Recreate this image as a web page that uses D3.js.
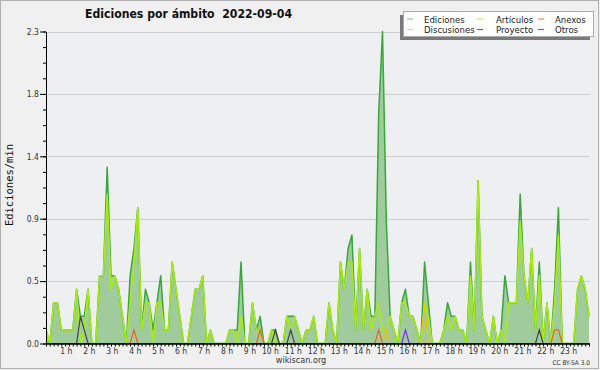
<!DOCTYPE html>
<html><head><meta charset="utf-8">
<script src="https://cdn.jsdelivr.net/npm/d3@7"></script>
<style>body{margin:0;background:#fff}svg{display:block}</style>
</head><body><svg id="c" width="600" height="370"></svg>
<script>
// 10-minute slots, edits per minute
const ediciones = [0.1,0,0.3,0.3,0.1,0.1,0.1,0.1,0.4,0.2,0.2,0.4,0,0,0.5,0.5,1.3,0.5,0.5,0.4,0.2,0,0.5,0.7,1.0,0.1,0.4,0.3,0.1,0.3,0.5,0.1,0.1,0.6,0.4,0.2,0,0,0.2,0.4,0.4,0.5,0,0.1,0,0,0,0,0.1,0.1,0.1,0.6,0,0,0.3,0.1,0.2,0,0,0.1,0.1,0,0,0.2,0.2,0.2,0.1,0,0.1,0.1,0.2,0,0,0,0.3,0.1,0,0.6,0.4,0.7,0.8,0.1,0.7,0.1,0.4,0.2,0.2,1.7,2.3,0.9,0.2,0.1,0,0.3,0.4,0.2,0.2,0.1,0,0.6,0.3,0,0,0,0.1,0.3,0.2,0.2,0.1,0.1,0,0.6,0.1,1.2,0.2,0.1,0,0.2,0,0.1,0.5,0.3,0.3,0.3,1.1,0.5,0.3,0.7,0.1,0.6,0,0.3,0,0.4,1.0,0,0,0,0,0.4,0.5,0.4,0.2];
const articulos = [0.1,0,0.3,0.3,0.1,0.1,0.1,0.1,0.4,0,0.1,0.4,0,0,0.5,0.5,1.1,0.4,0.5,0.4,0.2,0,0.3,0.6,1.0,0.1,0.3,0.3,0,0.3,0.3,0.1,0.1,0.6,0.4,0.2,0,0,0.2,0.4,0.4,0.5,0,0.1,0,0,0,0,0.1,0.1,0,0.2,0,0,0.3,0.1,0.1,0,0,0.1,0,0,0,0.2,0.1,0.2,0.1,0,0.1,0.1,0.2,0,0,0,0.3,0.1,0,0.6,0.4,0.6,0.6,0.1,0.7,0.1,0.4,0.1,0.2,0.3,0.1,0.1,0.2,0.1,0,0.3,0.3,0.2,0.2,0.1,0,0.3,0.2,0,0,0,0.1,0.2,0.1,0.2,0.1,0.1,0,0.5,0.1,1.2,0.2,0.1,0,0.2,0,0.1,0,0.3,0.3,0.3,0.9,0.5,0.3,0.7,0.1,0.5,0,0.3,0,0.3,0.8,0,0,0,0,0.4,0.5,0.4,0.2];
// sparse series: [slot, value]
const discusiones = [[89,0.1],[99,0.3]];
const proyecto = [[9,0.2],[10,0.1],[60,0.1],[64,0.1],[129,0.1]];
const anexos = [[23,0.1],[56,0.1],[87,0.1],[133,0.1],[134,0.1]];
const otros = [[94,0.1]];
const yTicks = [0, 0.46, 0.92, 1.38, 1.84, 2.3];
const hourLabels = ["1 h","2 h","3 h","4 h","5 h","6 h","7 h","8 h","9 h","10 h","11 h","12 h","13 h","14 h","15 h","16 h","17 h","18 h","19 h","20 h","21 h","22 h","23 h"];
const legendItems = [
  {name:"Ediciones", color:"#7fcf7f"},
  {name:"Artículos", color:"#c8ee55"},
  {name:"Anexos", color:"#f08a5a"},
  {name:"Discusiones", color:"#f5d44a"},
  {name:"Proyecto", color:"#666666"},
  {name:"Otros", color:"#9a4cf0"}
];

const N = ediciones.length;
function dense(sp){ const a = new Array(N).fill(0); sp.forEach(([i,v])=>a[i]=v); return a; }

const svg = d3.select("#c");
svg.append("rect").attr("x",0).attr("y",0).attr("width",600).attr("height",370).attr("fill","#f0f0f0");
svg.append("rect").attr("x",0.5).attr("y",0.5).attr("width",598).attr("height",368).attr("fill","none").attr("stroke","#b0b0b0");

const x = d3.scaleLinear().domain([0, 142]).range([46, 46 + 142*3.824]);
const y = d3.scaleLinear().domain([0, 2.3]).range([343.5, 31.5]);
const L = 46, R = 590;

// plot background
svg.append("rect").attr("x",L).attr("y",y(2.3)).attr("width",R-L).attr("height",y(0)-y(2.3)).attr("fill","#eeeff1");
// gridlines
svg.append("g").selectAll("line").data(yTicks.slice(1)).join("line")
  .attr("x1",L).attr("x2",R).attr("y1",d=>Math.round(y(d))+0.5).attr("y2",d=>Math.round(y(d))+0.5)
  .attr("stroke","#cccccc").attr("stroke-width",1);

svg.append("clipPath").attr("id","pc").append("rect").attr("x",L).attr("y",0).attr("width",R-L).attr("height",344);
const g = svg.append("g").attr("clip-path","url(#pc)");

const area = d3.area().x((d,i)=>x(i)).y0(y(0)).y1(d=>y(d));
const line = d3.line().x((d,i)=>x(i)).y(d=>y(d));

g.append("path").datum(ediciones).attr("d",area).attr("fill","#9fcb9d");
g.append("path").datum(ediciones).attr("d",line).attr("fill","none").attr("stroke","#38a83a").attr("stroke-width",1.5).attr("stroke-linejoin","round");
g.append("path").datum(articulos).attr("d",line).attr("fill","none").attr("stroke","#a8ec10").attr("stroke-width",1.5).attr("stroke-linejoin","round");
[[discusiones,"#f2c200"],[proyecto,"#444444"],[anexos,"#f06020"],[otros,"#7a2cf0"]].forEach(([s,c])=>{
  g.append("path").datum(dense(s)).attr("d",line).attr("fill","none").attr("stroke",c).attr("stroke-width",1.2);
});

// axes
const tickFont = "DejaVu Sans Condensed, DejaVu Sans, sans-serif";
const minorY = d3.range(0, 21).map(k=>k*2.3/20);
const ay = svg.append("g").attr("transform",`translate(${L},0)`);
ay.call(d3.axisLeft(y).tickValues(minorY).tickSize(3).tickFormat("").tickSizeOuter(0));
ay.selectAll(".tick line").attr("stroke","#000");
const ay2 = svg.append("g").attr("transform",`translate(${L},0)`);
ay2.call(d3.axisLeft(y).tickValues(yTicks).tickSize(6).tickPadding(1).tickFormat(d3.format(".1f")).tickSizeOuter(0));
ay2.selectAll("text").attr("font-family",tickFont).attr("font-size",8.5).attr("fill","#333");
ay2.select(".domain").attr("stroke","#000");

const ax = svg.append("g").attr("transform",`translate(0,${y(0)})`);
ax.call(d3.axisBottom(x).tickValues(d3.range(0, 143)).tickSize(3).tickFormat("").tickSizeOuter(0));
ax.select(".domain").attr("d",`M${L},0.5H${R}`).attr("stroke","#000").attr("stroke-width",1.5);
ax.selectAll(".tick line").attr("stroke","#000");
svg.append("g").selectAll("text").data(hourLabels).join("text")
  .attr("x",(d,i)=>x((i+1)*6)+3.5).attr("y",354).attr("text-anchor","end")
  .attr("font-family",tickFont).attr("font-size",8.5).attr("fill","#333").text(d=>d);

// y title
svg.append("text").attr("transform","translate(13,185) rotate(-90)").attr("text-anchor","middle")
  .attr("font-family","DejaVu Sans Mono, monospace").attr("font-size",10.5).attr("fill","#111").text("Ediciones/min");

// title
svg.append("text").attr("x",85).attr("y",17.5).attr("font-family","DejaVu Sans Condensed, DejaVu Sans, sans-serif")
  .attr("font-weight","bold").attr("font-size",12).attr("fill","#111")
  .attr("textLength",207).attr("lengthAdjust","spacingAndGlyphs")
  .style("white-space","pre").text("Ediciones por ámbito  2022-09-04");

// footer
svg.append("text").attr("x",301).attr("y",363).attr("text-anchor","middle").attr("font-family",tickFont)
  .attr("font-size",9).attr("fill","#333").text("wikiscan.org");
svg.append("text").attr("x",590).attr("y",364.5).attr("text-anchor","end").attr("font-family",tickFont)
  .attr("font-size",6.5).attr("fill","#333").text("CC BY-SA 3.0");

// legend
const lg = svg.append("g");
lg.append("rect").attr("x",400).attr("y",15).attr("width",190).attr("height",25).attr("fill","#7a7a7a");
lg.append("rect").attr("x",403.5).attr("y",11.5).attr("width",190).attr("height",25).attr("fill","#ffffff").attr("stroke","#aaaaaa");
const colX = [407, 477, 538], txtX = [424, 496, 555], rowY = [19, 29.5];
legendItems.forEach((d,k)=>{
  const c = k%3, r = Math.floor(k/3);
  lg.append("line").attr("x1",colX[c]).attr("x2",colX[c]+6).attr("y1",rowY[r]).attr("y2",rowY[r]).attr("stroke",d.color).attr("stroke-width",1.2);
  lg.append("text").attr("x",txtX[c]).attr("y",rowY[r]+3.5).attr("font-family",tickFont).attr("font-size",9.5).attr("fill","#222").text(d.name);
});
</script></body></html>
